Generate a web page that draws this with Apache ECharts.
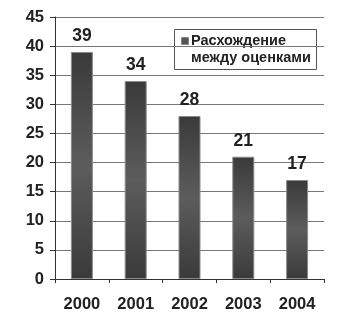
<!DOCTYPE html>
<html><head><meta charset="utf-8">
<script src="https://cdn.jsdelivr.net/npm/echarts@6/dist/echarts.min.js"></script>
<style>html,body{margin:0;padding:0;background:#fff}#c{width:350px;height:320px}</style>
</head><body><div id="c"></div>
<script>
const categories = ['2000', '2001', '2002', '2003', '2004'];
const values = [39, 34, 28, 21, 17];
const seriesName = 'Расхождение\nмежду оценками';

const chart = echarts.init(document.getElementById('c'), null, {renderer: 'canvas'});
const font = '"Liberation Sans", Arial, sans-serif';
chart.setOption({
  animation: false,
  backgroundColor: '#fff',
  grid: {left: 55, right: 26, top: 17, bottom: 41, containLabel: false},
  legend: {show: false},
  graphic: [{
    type: 'group', z: 100, left: 174, top: 29,
    children: [
      {type: 'rect', shape: {x: 0.5, y: 0.5, width: 142, height: 40},
       style: {fill: '#fff', stroke: '#555', lineWidth: 1}},
      {type: 'rect', shape: {x: 7.5, y: 8.5, width: 7, height: 7},
       style: {fill: '#555', stroke: '#888', lineWidth: 1}},
      {type: 'text', x: 17, y: 3,
       style: {text: seriesName, font: 'bold 14.5px ' + font, fill: '#222', lineHeight: 17}}
    ]
  }],
  xAxis: {
    type: 'category', data: categories,
    axisLine: {lineStyle: {color: '#333', width: 1}},
    axisTick: {show: true, length: 4, lineStyle: {color: '#333'}},
    axisLabel: {fontFamily: font, fontWeight: 'bold', fontSize: 16.5, color: '#222', margin: 17}
  },
  yAxis: {
    type: 'value', min: 0, max: 45, interval: 5,
    axisLine: {show: true, lineStyle: {color: '#333'}},
    axisTick: {show: true, length: 5, lineStyle: {color: '#333'}},
    axisLabel: {fontFamily: font, fontWeight: 'bold', fontSize: 16.5, color: '#222', margin: 11},
    splitLine: {lineStyle: {color: '#777', width: 1}}
  },
  series: [{
    name: seriesName, type: 'bar', data: values, barWidth: 22,
    itemStyle: {
      color: new echarts.graphic.LinearGradient(0, 0, 0, 1, [
        {offset: 0, color: '#3a3a3a'},
        {offset: 0.5, color: '#5c5c5c'},
        {offset: 1, color: '#3a3a3a'}
      ]),
      borderColor: '#8a8a8a', borderWidth: 1
    },
    label: {show: true, position: 'top', distance: 7, fontFamily: font, fontWeight: 'bold', fontSize: 17.5, color: '#222'}
  }]
});
</script></body></html>
